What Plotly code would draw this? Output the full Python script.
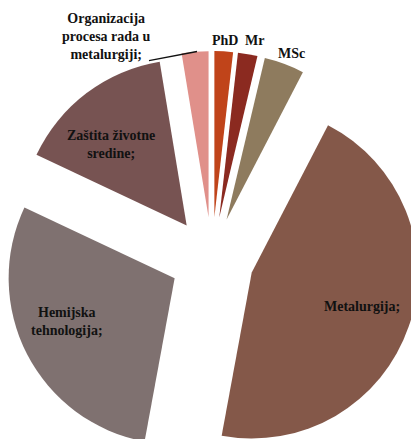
import plotly.graph_objects as go

# Data (shares, %)
categories = ["PhD", "Mr", "MSc", "Metalurgija", "Hemijska tehnologija",
              "Zaštita životne sredine", "Organizacija procesa rada u metalurgiji"]
values = [1.8, 1.9, 3.9, 45.3, 29.1, 15.4, 2.6]
colors = ["#c0441a", "#8b2a20", "#8e7b5e", "#845849", "#7f7170", "#775352", "#e0908a"]
label_texts = ["PhD", "Mr", "MSc", "Metalurgija;", "Hemijska<br>tehnologija;",
               "Zaštita životne<br>sredine;", "Organizacija<br>procesa rada u<br>metalurgiji;"]
# label centres in page pixels
label_px = [(225, 40), (254, 40), (291, 53), (362, 306), (67, 321), (111, 144), (106, 37)]

W, H = 424, 470
box_l, box_r, box_t, box_b = 4, 420, 51, 467


def px(x):
    return x / W


def py(y):
    return 1 - y / H


fig = go.Figure(go.Pie(
    labels=categories,
    values=values,
    marker=dict(colors=colors, line=dict(width=0)),
    sort=False,
    direction="clockwise",
    rotation=0,
    pull=[0.253] * len(values),
    textinfo="none",
    hoverinfo="label+percent",
    showlegend=False,
    domain=dict(x=[px(box_l), px(box_r)], y=[py(box_b), py(box_t)]),
))

for txt, (x, y) in zip(label_texts, label_px):
    fig.add_annotation(
        x=px(x), y=py(y), xref="paper", yref="paper",
        text=txt, showarrow=False, xanchor="center", yanchor="middle",
        font=dict(family="Liberation Serif", size=14, color="#111111", weight="bold"),
        align="center",
    )

fig.add_shape(type="line", xref="paper", yref="paper",
              x0=px(149), y0=py(60.7), x1=px(197), y1=py(51.5),
              line=dict(color="#111111", width=1.3))

fig.update_layout(
    width=W, height=H,
    margin=dict(l=0, r=0, t=0, b=0),
    paper_bgcolor="white",
    plot_bgcolor="white",
    font=dict(family="Liberation Serif", size=14, color="#111111"),
)

fig.write_html(
    "out.html",
    config={"displayModeBar": False},
    post_script="document.body.style.margin='0';document.body.style.overflow='hidden';"
                "document.documentElement.style.overflow='hidden';",
)
